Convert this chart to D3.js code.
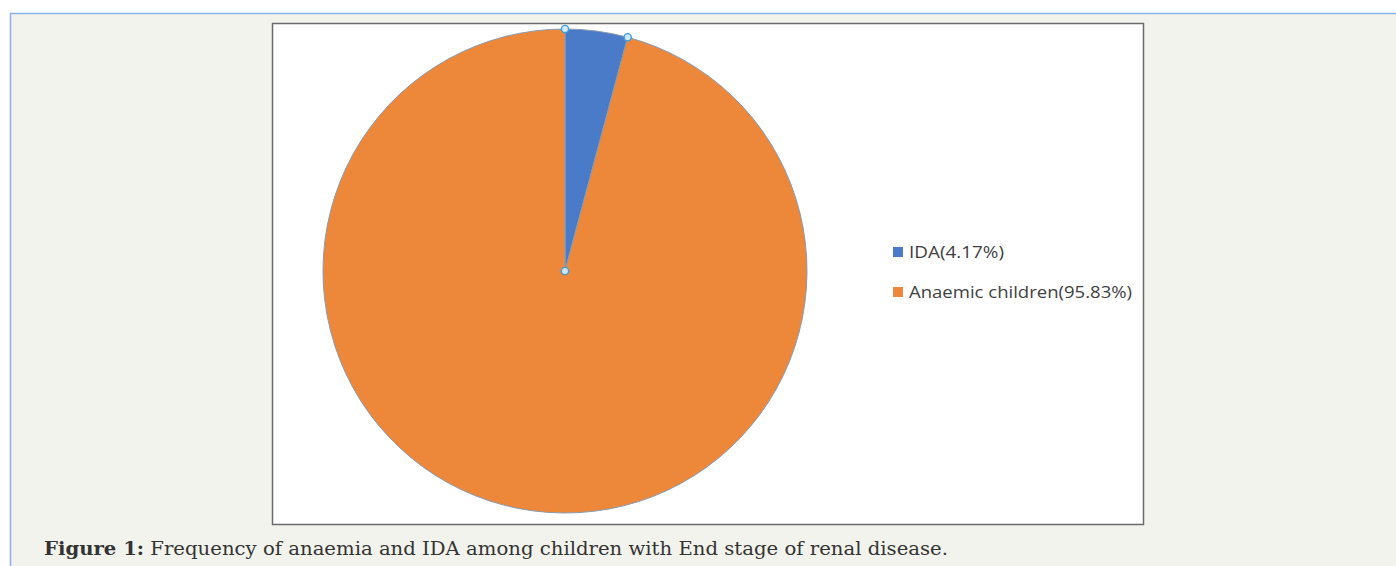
<!DOCTYPE html>
<html>
<head>
<meta charset="utf-8">
<script src="https://cdn.jsdelivr.net/npm/d3@7"></script>
<style>
  html, body { margin: 0; padding: 0; background: #fff; }
  svg { display: block; }
</style>
</head>
<body>
<div id="chart"></div>
<script>
// chart data
const categories = ['IDA', 'Anaemic children'];
const shares = [4.17, 95.83];
const legendLabels = ['IDA(4.17%)', 'Anaemic children(95.83%)'];
const colors = ['#4a7bc9', '#ed873a'];

const width = 1396, height = 566;

const svg = d3.select('#chart')
    .append('svg')
    .attr('width', width)
    .attr('height', height);

// page panel
svg.append('rect')
    .attr('x', 10).attr('y', 13)
    .attr('width', width - 10).attr('height', height - 13)
    .attr('fill', '#f3f3ee');
svg.append('path')
    .attr('d', `M10.5,${height} V13.5 H${width}`)
    .attr('fill', 'none')
    .attr('stroke', '#8db2e8')
    .attr('stroke-width', 1.5);

// chart box
svg.append('rect')
    .attr('x', 272.5).attr('y', 23.5)
    .attr('width', 871).attr('height', 501)
    .attr('fill', '#fff')
    .attr('stroke', '#6a6a6a')
    .attr('stroke-width', 1.5);

const cx = 565, cy = 271, radius = 242;

const pie = d3.pie().sort(null).value((d) => d.value);
const arc = d3.arc().innerRadius(0).outerRadius(radius);

const data = categories.map((c, i) => ({name: c, value: shares[i], color: colors[i]}));
const arcs = pie(data);

const g = svg.append('g').attr('transform', `translate(${cx},${cy})`);

g.selectAll('path.slice')
    .data(arcs)
    .enter()
    .append('path')
    .attr('class', 'slice')
    .attr('d', arc)
    .attr('fill', (d) => d.data.color)
    .attr('stroke', '#8a9bb0')
    .attr('stroke-width', 1);

// selection handles on the IDA slice
const first = arcs[0];
const handles = [
    [0, 0],
    [radius * Math.sin(first.startAngle), -radius * Math.cos(first.startAngle)],
    [radius * Math.sin(first.endAngle), -radius * Math.cos(first.endAngle)]
];
g.selectAll('circle.handle')
    .data(handles)
    .enter()
    .append('circle')
    .attr('class', 'handle')
    .attr('cx', (d) => d[0])
    .attr('cy', (d) => d[1])
    .attr('r', 3.6)
    .attr('fill', '#cfe9fb')
    .attr('stroke', '#3a9ee0')
    .attr('stroke-width', 1.4);

// legend
const legendWidths = [95, 223];
const legend = svg.append('g').attr('transform', 'translate(893,252)');
const item = legend.selectAll('g')
    .data(legendLabels)
    .enter()
    .append('g')
    .attr('transform', (d, i) => `translate(0,${i * 40})`);
item.append('rect')
    .attr('x', 0).attr('y', -5)
    .attr('width', 10).attr('height', 10)
    .attr('fill', (d, i) => colors[i]);
item.append('text')
    .attr('x', 16)
    .attr('y', 0)
    .attr('dy', '0.36em')
    .attr('fill', '#404040')
    .attr('textLength', (d, i) => legendWidths[i])
    .attr('lengthAdjust', 'spacingAndGlyphs')
    .style('font-family', '"Open Sans", "Noto Sans", sans-serif')
    .style('font-size', '17px')
    .text((d) => d);

// caption
const caption = svg.append('text')
    .attr('x', 44)
    .attr('y', 555)
    .attr('fill', '#333')
    .attr('textLength', 904)
    .attr('lengthAdjust', 'spacingAndGlyphs')
    .style('font-family', '"DejaVu Serif", serif')
    .style('font-size', '18px');
caption.append('tspan')
    .style('font-weight', 'bold')
    .text('Figure 1:');
caption.append('tspan')
    .text(' Frequency of anaemia and IDA among children with End stage of renal disease.');
</script>
</body>
</html>
